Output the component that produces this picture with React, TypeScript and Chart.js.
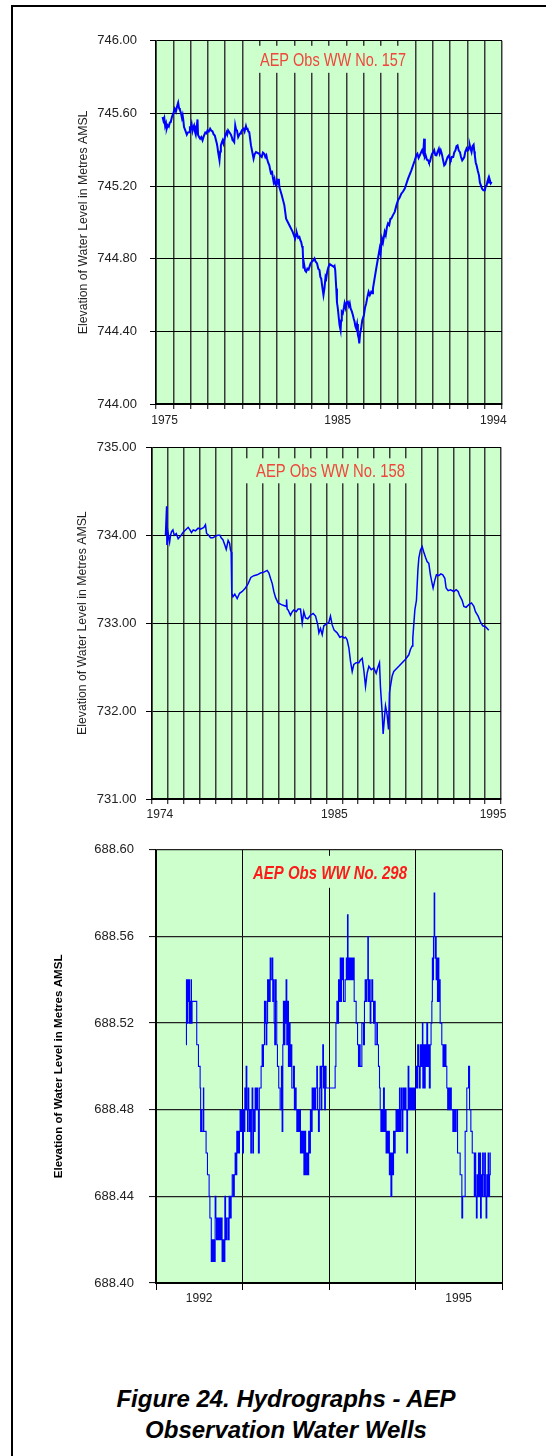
import React, { useEffect, useRef } from "react";
import { Chart, registerables } from "chart.js";

Chart.register(...registerables);

// ---------------- DATA (decimal year, water level m AMSL) ----------------
const well157: [number, number][] = [
  [1975.38,745.580],[1975.43,745.560],[1975.48,745.575],[1975.53,745.530],[1975.58,745.545],[1975.62,745.516],[1975.68,745.535],[1975.74,745.528],[1975.80,745.550],[1975.85,745.552],[1975.92,745.580],[1976.00,745.600],[1976.08,745.626],[1976.15,745.610],[1976.22,745.640],[1976.28,745.659],[1976.33,745.630],[1976.38,745.620],[1976.43,745.607],[1976.50,745.575],[1976.54,745.590],[1976.58,745.562],[1976.62,745.525],[1976.70,745.505],[1976.78,745.483],[1976.84,745.495],[1976.91,745.497],[1976.96,745.520],[1977.01,745.516],[1977.06,745.540],[1977.11,745.505],[1977.16,745.525],[1977.20,745.534],[1977.25,745.500],[1977.30,745.483],[1977.35,745.520],[1977.40,745.567],[1977.43,745.483],[1977.49,745.470],[1977.55,745.461],[1977.62,745.470],[1977.69,745.452],[1977.74,745.468],[1977.78,745.479],[1977.85,745.495],[1977.92,745.490],[1977.98,745.507],[1978.05,745.500],[1978.13,745.516],[1978.20,745.505],[1978.27,745.501],[1978.33,745.485],[1978.40,745.479],[1978.46,745.455],[1978.52,745.433],[1978.56,745.410],[1978.59,745.387],[1978.63,745.365],[1978.67,745.342],[1978.71,745.390],[1978.75,745.424],[1978.80,745.440],[1978.85,745.452],[1978.90,745.435],[1978.94,745.452],[1979.01,745.480],[1979.08,745.497],[1979.12,745.485],[1979.17,745.507],[1979.25,745.495],[1979.33,745.483],[1979.38,745.470],[1979.43,745.452],[1979.48,745.448],[1979.52,745.442],[1979.58,745.534],[1979.63,745.510],[1979.68,745.507],[1979.75,745.470],[1979.80,745.480],[1979.86,745.490],[1979.91,745.497],[1979.98,745.510],[1980.06,745.516],[1980.12,745.500],[1980.20,745.530],[1980.24,745.515],[1980.29,745.516],[1980.34,745.500],[1980.39,745.497],[1980.49,745.424],[1980.64,745.351],[1980.70,745.375],[1980.78,745.387],[1980.97,745.378],[1981.04,745.365],[1981.11,745.360],[1981.18,745.385],[1981.26,745.378],[1981.32,745.360],[1981.38,745.370],[1981.42,745.351],[1981.48,745.330],[1981.55,745.314],[1981.60,745.290],[1981.65,745.268],[1981.70,745.285],[1981.75,745.250],[1981.80,745.223],[1981.85,745.240],[1981.90,745.210],[1981.94,745.204],[1982.00,745.230],[1982.07,745.213],[1982.10,745.240],[1982.13,745.195],[1982.27,745.149],[1982.42,745.094],[1982.52,745.021],[1982.71,744.984],[1982.90,744.948],[1983.04,744.911],[1983.10,744.935],[1983.15,744.939],[1983.22,744.915],[1983.29,744.920],[1983.35,744.900],[1983.39,744.893],[1983.44,744.870],[1983.48,744.856],[1983.52,744.746],[1983.56,744.770],[1983.62,744.735],[1983.68,744.728],[1983.75,744.745],[1983.82,744.740],[1983.87,744.755],[1983.94,744.775],[1984.00,744.783],[1984.08,744.790],[1984.16,744.801],[1984.22,744.785],[1984.31,744.774],[1984.38,744.745],[1984.45,744.737],[1984.50,744.700],[1984.55,744.691],[1984.62,744.640],[1984.68,744.600],[1984.74,744.640],[1984.80,744.700],[1984.84,744.691],[1984.90,744.730],[1984.97,744.755],[1985.05,744.770],[1985.13,744.765],[1985.20,744.760],[1985.28,744.755],[1985.32,744.760],[1985.36,744.737],[1985.42,744.636],[1985.46,744.560],[1985.51,744.526],[1985.56,744.480],[1985.61,744.435],[1985.67,744.407],[1985.70,744.460],[1985.74,744.508],[1985.80,744.500],[1985.86,744.530],[1985.90,744.554],[1985.96,744.530],[1986.02,744.560],[1986.09,744.563],[1986.15,744.540],[1986.20,744.555],[1986.25,744.526],[1986.32,744.510],[1986.38,744.490],[1986.43,744.470],[1986.48,744.453],[1986.52,744.430],[1986.57,744.417],[1986.62,744.440],[1986.67,744.380],[1986.72,744.360],[1986.75,744.334],[1986.80,744.390],[1986.86,744.417],[1986.92,744.460],[1987.02,744.490],[1987.08,744.530],[1987.15,744.554],[1987.22,744.590],[1987.29,744.618],[1987.36,744.600],[1987.44,744.618],[1987.50,744.610],[1987.54,744.636],[1987.73,744.746],[1987.93,744.856],[1987.98,744.830],[1988.06,744.911],[1988.12,744.890],[1988.22,744.948],[1988.28,744.930],[1988.35,744.975],[1988.41,744.994],[1988.48,744.985],[1988.55,745.020],[1988.60,745.021],[1988.70,745.040],[1988.80,745.058],[1988.90,745.095],[1988.99,745.122],[1989.08,745.135],[1989.18,745.158],[1989.28,745.170],[1989.38,745.186],[1989.57,745.241],[1989.76,745.287],[1989.96,745.342],[1990.05,745.370],[1990.11,745.378],[1990.18,745.355],[1990.25,745.369],[1990.32,745.385],[1990.38,745.397],[1990.45,745.380],[1990.50,745.461],[1990.54,745.360],[1990.59,745.369],[1990.66,745.345],[1990.73,745.342],[1990.78,745.330],[1990.83,745.333],[1990.90,745.360],[1990.96,745.378],[1991.02,745.385],[1991.08,745.397],[1991.15,745.370],[1991.21,745.369],[1991.28,745.390],[1991.35,745.406],[1991.40,745.380],[1991.46,745.397],[1991.50,745.385],[1991.54,745.369],[1991.60,745.340],[1991.66,745.314],[1991.72,745.320],[1991.79,745.342],[1991.86,745.360],[1991.93,745.369],[1992.00,745.345],[1992.04,745.342],[1992.10,745.360],[1992.18,745.360],[1992.24,745.385],[1992.31,745.397],[1992.37,745.420],[1992.43,745.424],[1992.50,745.395],[1992.57,745.387],[1992.63,745.360],[1992.70,745.342],[1992.76,745.350],[1992.82,745.360],[1992.88,745.390],[1992.95,745.406],[1993.00,745.395],[1993.05,745.397],[1993.10,745.415],[1993.14,745.424],[1993.20,745.400],[1993.24,745.387],[1993.30,745.420],[1993.36,745.428],[1993.40,745.390],[1993.43,745.369],[1993.48,745.330],[1993.53,745.314],[1993.60,745.285],[1993.67,745.259],[1993.72,745.220],[1993.78,745.204],[1993.85,745.185],[1993.92,745.177],[1994.01,745.177],[1994.06,745.200],[1994.11,745.204],[1994.16,745.225],[1994.21,745.241],[1994.25,745.220],[1994.30,745.232],[1994.35,745.215],[1994.40,745.223],
];

const well158: [number, number][] = [
  [1974.85,734.00],[1974.92,734.33],[1974.94,733.89],[1974.98,733.95],[1975.02,734.02],[1975.11,733.92],[1975.17,734.00],[1975.23,734.04],[1975.32,734.06],[1975.40,734.00],[1975.53,734.02],[1975.65,733.96],[1975.80,733.99],[1975.95,734.03],[1976.11,734.06],[1976.28,734.09],[1976.39,734.06],[1976.49,734.03],[1976.60,734.06],[1976.74,734.05],[1976.91,734.08],[1977.06,734.07],[1977.27,734.09],[1977.37,734.12],[1977.44,734.02],[1977.58,734.00],[1977.69,733.97],[1977.84,733.97],[1978.00,733.99],[1978.15,734.00],[1978.28,734.00],[1978.36,733.97],[1978.47,733.95],[1978.59,733.89],[1978.68,733.84],[1978.80,733.94],[1978.89,733.91],[1978.95,733.83],[1978.99,733.81],[1979.03,733.34],[1979.10,733.30],[1979.22,733.33],[1979.37,733.28],[1979.52,733.34],[1979.69,733.36],[1979.89,733.40],[1980.06,733.45],[1980.23,733.52],[1980.42,733.54],[1980.63,733.55],[1980.84,733.57],[1981.05,733.58],[1981.26,733.60],[1981.37,733.57],[1981.47,733.51],[1981.58,733.45],[1981.68,733.36],[1981.79,733.29],[1981.95,733.23],[1982.16,733.21],[1982.31,733.20],[1982.46,733.19],[1982.48,733.27],[1982.52,733.16],[1982.58,733.15],[1982.73,733.09],[1982.84,733.13],[1982.94,733.15],[1983.09,733.13],[1983.21,733.16],[1983.36,733.16],[1983.47,733.00],[1983.57,733.13],[1983.68,733.06],[1983.82,733.05],[1983.99,733.09],[1984.16,733.11],[1984.31,733.08],[1984.45,732.98],[1984.52,732.89],[1984.62,732.94],[1984.73,732.87],[1984.83,732.97],[1984.98,732.99],[1985.15,733.01],[1985.25,733.08],[1985.36,732.98],[1985.48,732.92],[1985.67,732.89],[1985.84,732.84],[1985.99,732.85],[1986.11,732.83],[1986.20,732.84],[1986.30,732.81],[1986.41,732.72],[1986.51,732.57],[1986.62,732.45],[1986.72,732.53],[1986.87,732.55],[1987.04,732.55],[1987.14,732.58],[1987.25,732.60],[1987.35,732.47],[1987.46,732.28],[1987.56,732.43],[1987.67,732.51],[1987.82,732.47],[1987.98,732.49],[1988.13,732.43],[1988.26,732.51],[1988.34,732.55],[1988.40,732.28],[1988.51,731.98],[1988.57,731.74],[1988.66,731.94],[1988.72,732.06],[1988.82,731.96],[1988.91,731.79],[1988.97,732.21],[1989.03,732.28],[1989.14,732.40],[1989.24,732.45],[1989.45,732.49],[1989.56,732.51],[1989.98,732.59],[1990.19,732.64],[1990.29,732.70],[1990.40,732.74],[1990.44,732.83],[1990.50,732.98],[1990.57,733.15],[1990.67,733.26],[1990.76,733.60],[1990.82,733.74],[1990.92,733.83],[1991.03,733.87],[1991.13,733.81],[1991.24,733.75],[1991.34,733.70],[1991.45,733.68],[1991.55,733.55],[1991.66,733.45],[1991.72,733.40],[1991.83,733.49],[1991.93,733.55],[1992.08,733.54],[1992.21,733.56],[1992.33,733.55],[1992.46,733.51],[1992.54,733.40],[1992.67,733.37],[1992.82,733.38],[1993.03,733.36],[1993.17,733.38],[1993.30,733.36],[1993.38,733.32],[1993.55,733.26],[1993.66,733.19],[1993.80,733.18],[1993.97,733.21],[1994.14,733.23],[1994.29,733.19],[1994.39,733.13],[1994.56,733.08],[1994.71,733.01],[1994.85,732.97],[1995.02,732.96],[1995.13,732.94],[1995.23,732.92],
];

const well298: [number, number][] = [
  [1992.348,688.51],[1992.352,688.54],[1992.356,688.52],[1992.360,688.54],[1992.364,688.52],[1992.368,688.54],[1992.371,688.53],[1992.375,688.54],[1992.379,688.53],[1992.383,688.54],[1992.387,688.52],[1992.391,688.53],[1992.394,688.52],[1992.398,688.53],[1992.402,688.52],[1992.406,688.54],[1992.410,688.52],[1992.417,688.53],[1992.471,688.51],[1992.491,688.50],[1992.510,688.49],[1992.516,688.47],[1992.522,688.48],[1992.530,688.47],[1992.548,688.49],[1992.552,688.47],[1992.579,688.46],[1992.595,688.45],[1992.614,688.44],[1992.623,688.43],[1992.639,688.41],[1992.645,688.42],[1992.651,688.41],[1992.663,688.42],[1992.675,688.41],[1992.684,688.44],[1992.692,688.43],[1992.700,688.42],[1992.712,688.43],[1992.724,688.42],[1992.732,688.43],[1992.740,688.42],[1992.752,688.43],[1992.764,688.41],[1992.772,688.42],[1992.784,688.41],[1992.796,688.44],[1992.804,688.42],[1992.816,688.43],[1992.832,688.42],[1992.845,688.44],[1992.857,688.43],[1992.869,688.44],[1992.881,688.45],[1992.895,688.44],[1992.905,688.45],[1992.915,688.46],[1992.925,688.45],[1992.934,688.47],[1992.941,688.46],[1992.949,688.47],[1992.957,688.46],[1992.965,688.47],[1992.972,688.48],[1992.980,688.47],[1992.988,688.48],[1993.003,688.46],[1993.011,688.48],[1993.019,688.47],[1993.027,688.49],[1993.034,688.48],[1993.042,688.50],[1993.050,688.48],[1993.058,688.47],[1993.065,688.49],[1993.073,688.48],[1993.081,688.47],[1993.088,688.48],[1993.096,688.46],[1993.103,688.48],[1993.111,688.49],[1993.119,688.46],[1993.127,688.48],[1993.134,688.47],[1993.146,688.49],[1993.154,688.48],[1993.165,688.49],[1993.176,688.48],[1993.184,688.46],[1993.194,688.49],[1993.215,688.50],[1993.227,688.51],[1993.234,688.50],[1993.242,688.51],[1993.254,688.53],[1993.260,688.52],[1993.265,688.53],[1993.273,688.51],[1993.281,688.52],[1993.290,688.54],[1993.296,688.53],[1993.304,688.54],[1993.311,688.53],[1993.320,688.55],[1993.331,688.54],[1993.346,688.55],[1993.350,688.53],[1993.358,688.54],[1993.366,688.52],[1993.373,688.51],[1993.381,688.54],[1993.389,688.53],[1993.396,688.51],[1993.404,688.50],[1993.419,688.49],[1993.435,688.48],[1993.450,688.50],[1993.458,688.47],[1993.466,688.51],[1993.473,688.53],[1993.481,688.51],[1993.490,688.53],[1993.496,688.52],[1993.504,688.54],[1993.512,688.51],[1993.520,688.53],[1993.531,688.50],[1993.542,688.52],[1993.550,688.50],[1993.560,688.51],[1993.570,688.49],[1993.589,688.50],[1993.600,688.48],[1993.608,688.49],[1993.620,688.48],[1993.628,688.47],[1993.640,688.48],[1993.650,688.47],[1993.660,688.48],[1993.670,688.46],[1993.680,688.47],[1993.690,688.46],[1993.700,688.47],[1993.710,688.45],[1993.720,688.47],[1993.730,688.45],[1993.743,688.46],[1993.755,688.45],[1993.765,688.47],[1993.775,688.46],[1993.785,688.48],[1993.795,688.47],[1993.805,688.49],[1993.815,688.48],[1993.825,688.49],[1993.835,688.48],[1993.845,688.49],[1993.859,688.50],[1993.866,688.48],[1993.878,688.47],[1993.888,688.49],[1993.897,688.50],[1993.908,688.48],[1993.917,688.50],[1993.928,688.51],[1993.936,688.49],[1993.943,688.50],[1993.950,688.48],[1993.958,688.50],[1993.966,688.49],[1994.071,688.50],[1994.080,688.52],[1994.091,688.53],[1994.100,688.52],[1994.110,688.54],[1994.121,688.53],[1994.130,688.55],[1994.137,688.53],[1994.145,688.55],[1994.152,688.54],[1994.160,688.55],[1994.168,688.53],[1994.187,688.54],[1994.200,688.55],[1994.210,688.54],[1994.214,688.57],[1994.220,688.54],[1994.228,688.55],[1994.236,688.54],[1994.245,688.55],[1994.255,688.54],[1994.264,688.55],[1994.275,688.54],[1994.283,688.55],[1994.291,688.53],[1994.314,688.52],[1994.330,688.51],[1994.341,688.50],[1994.350,688.51],[1994.360,688.50],[1994.380,688.52],[1994.399,688.51],[1994.410,688.53],[1994.418,688.54],[1994.428,688.53],[1994.437,688.54],[1994.449,688.56],[1994.455,688.53],[1994.468,688.54],[1994.476,688.52],[1994.484,688.53],[1994.495,688.54],[1994.505,688.53],[1994.515,688.52],[1994.525,688.53],[1994.534,688.51],[1994.553,688.52],[1994.560,688.51],[1994.572,688.50],[1994.584,688.49],[1994.592,688.48],[1994.600,688.47],[1994.611,688.48],[1994.620,688.47],[1994.630,688.49],[1994.640,688.47],[1994.649,688.48],[1994.660,688.46],[1994.669,688.47],[1994.680,688.46],[1994.688,688.47],[1994.698,688.45],[1994.707,688.46],[1994.716,688.44],[1994.726,688.46],[1994.736,688.45],[1994.746,688.47],[1994.756,688.46],[1994.765,688.47],[1994.775,688.48],[1994.784,688.47],[1994.794,688.48],[1994.804,688.47],[1994.815,688.49],[1994.822,688.47],[1994.830,688.48],[1994.838,688.49],[1994.846,688.47],[1994.854,688.48],[1994.861,688.49],[1994.870,688.48],[1994.881,688.49],[1994.890,688.48],[1994.900,688.46],[1994.908,688.48],[1994.915,688.50],[1994.923,688.48],[1994.931,688.49],[1994.940,688.48],[1994.946,688.49],[1994.954,688.48],[1994.962,688.49],[1994.970,688.48],[1994.977,688.49],[1994.988,688.48],[1994.996,688.49],[1995.005,688.50],[1995.015,688.49],[1995.025,688.51],[1995.035,688.50],[1995.045,688.49],[1995.054,688.51],[1995.063,688.50],[1995.073,688.51],[1995.080,688.52],[1995.085,688.49],[1995.093,688.51],[1995.102,688.49],[1995.112,688.51],[1995.120,688.50],[1995.131,688.52],[1995.140,688.50],[1995.150,688.51],[1995.160,688.49],[1995.170,688.51],[1995.180,688.52],[1995.189,688.53],[1995.195,688.55],[1995.200,688.54],[1995.208,688.56],[1995.216,688.58],[1995.222,688.56],[1995.227,688.55],[1995.233,688.56],[1995.239,688.54],[1995.247,688.55],[1995.254,688.53],[1995.262,688.55],[1995.270,688.53],[1995.278,688.54],[1995.285,688.52],[1995.304,688.51],[1995.318,688.50],[1995.326,688.51],[1995.334,688.50],[1995.342,688.51],[1995.352,688.50],[1995.362,688.49],[1995.372,688.48],[1995.382,688.49],[1995.394,688.48],[1995.404,688.49],[1995.414,688.48],[1995.432,688.47],[1995.445,688.48],[1995.458,688.47],[1995.470,688.48],[1995.486,688.46],[1995.516,688.45],[1995.536,688.43],[1995.545,688.44],[1995.574,688.47],[1995.593,688.49],[1995.613,688.50],[1995.625,688.48],[1995.640,688.47],[1995.656,688.46],[1995.680,688.44],[1995.688,688.46],[1995.696,688.44],[1995.704,688.43],[1995.712,688.45],[1995.720,688.44],[1995.728,688.46],[1995.736,688.44],[1995.744,688.46],[1995.752,688.43],[1995.760,688.45],[1995.768,688.44],[1995.776,688.46],[1995.784,688.45],[1995.792,688.44],[1995.800,688.46],[1995.808,688.44],[1995.816,688.43],[1995.824,688.45],[1995.832,688.44],[1995.840,688.46],[1995.848,688.44],[1995.856,688.45],[1995.864,688.46],[1995.871,688.46],
];

// tick values / labels
const yTicks157 = [744, 744.4, 744.8, 745.2, 745.6, 746];
const yTicks158 = [731, 732, 733, 734, 735];
const yTicks298 = [688.4, 688.44, 688.48, 688.52, 688.56, 688.6];
const xLabels157 = [1975, 1985, 1994];
const xLabels158 = [1974, 1985, 1995];
const xLabels298 = [1992, 1995];
const Y_TITLE = "Elevation of Water Level in Metres AMSL";

// ---------------- chart plumbing ----------------
const plotDecor = {
  id: "plotDecor",
  beforeDraw(chart: any, _a: any, o: any) {
    const { ctx, chartArea: a } = chart;
    ctx.save();
    ctx.fillStyle = o.bg;
    ctx.fillRect(a.left, a.top, a.right - a.left, a.bottom - a.top);
    ctx.restore();
  },
  beforeDatasetsDraw(chart: any, _a: any, o: any) {
    const { ctx, chartArea: a } = chart;
    ctx.save();
    ctx.fillStyle = o.bg;
    ctx.fillRect(a.left + o.bx, a.top + o.by, o.bw, o.bh);
    ctx.font = o.textFont;
    ctx.fillStyle = o.color;
    ctx.textAlign = "center";
    ctx.textBaseline = "middle";
    const w = ctx.measureText(o.text).width;
    ctx.translate(a.left + o.cx, a.top + o.cy);
    ctx.scale(o.textWidth / w, 1);
    ctx.fillText(o.text, 0, 0);
    ctx.restore();
  },
};

type Spec = {
  id: string;
  series: [number, number][];
  top: number;
  height: number;
  padding: { left: number; right: number; top: number; bottom: number };
  yAxisWidth: number;
  xMin: number;
  xMax: number;
  yMin: number;
  yMax: number;
  yTicks: number[];
  xLabels: number[];
  xLabelOffset: number;
  xTickLength: number;
  xLabelPadding: number;
  yTickLength: number;
  yTickPadding: number;
  yTitleSize: number;
  yTitleWeight: string;
  yTitleColor: string;
  title: string;
  titleFont: string;
  titleColor: string;
  titleWidth: number;
  box: { bx: number; by: number; bw: number; bh: number; cx: number; cy: number };
  vGridColor: string;
  vGridWidth: number;
  hGridColor: string;
  hGridWidth: number;
  lineWidth: number;
  stepped: boolean;
};

const specs: Spec[] = [
  {
    id: "157", series: well157, top: 20, height: 420,
    padding: { left: 76, right: 44, top: 0, bottom: 6 }, yAxisWidth: 80,
    xMin: 1975, xMax: 1995, yMin: 744, yMax: 746, yTicks: yTicks157, xLabels: xLabels157,
    xLabelOffset: 8.6, xTickLength: 5, xLabelPadding: 4, yTickLength: 6, yTickPadding: 13,
    yTitleSize: 12.3, yTitleWeight: "normal", yTitleColor: "#222",
    title: "AEP Obs WW No. 157", titleFont: '18px "Liberation Sans", Arial, sans-serif', titleColor: "#f0463c", titleWidth: 146,
    box: { bx: 94, by: 5, bw: 157, bh: 27, cx: 177, cy: 20 },
    vGridColor: "#3a3a3a", vGridWidth: 1.5, hGridColor: "#000", hGridWidth: 1, lineWidth: 2, stepped: false,
  },
  {
    id: "158", series: well158, top: 430, height: 401,
    padding: { left: 75, right: 45, top: 0, bottom: 2 }, yAxisWidth: 77,
    xMin: 1974, xMax: 1996, yMin: 731, yMax: 735, yTicks: yTicks158, xLabels: xLabels158,
    xLabelOffset: 7.9, xTickLength: 5, xLabelPadding: 3, yTickLength: 6, yTickPadding: 9.5,
    yTitleSize: 12.3, yTitleWeight: "normal", yTitleColor: "#222",
    title: "AEP Obs WW No. 158", titleFont: '18px "Liberation Sans", Arial, sans-serif', titleColor: "#f0463c", titleWidth: 149,
    box: { bx: 88, by: 11, bw: 172, bh: 25, cx: 178.5, cy: 24.7 },
    vGridColor: "#3a3a3a", vGridWidth: 1.5, hGridColor: "#000", hGridWidth: 1, lineWidth: 1.5, stepped: false,
  },
  {
    id: "298", series: well298, top: 827, height: 500,
    padding: { left: 52, right: 44, top: 0, bottom: 14 }, yAxisWidth: 104,
    xMin: 1992, xMax: 1996, yMin: 688.4, yMax: 688.6, yTicks: yTicks298, xLabels: xLabels298,
    xLabelOffset: 43.2, xTickLength: 7, xLabelPadding: 1, yTickLength: 7, yTickPadding: 15,
    yTitleSize: 11.6, yTitleWeight: "bold", yTitleColor: "#000",
    title: "AEP Obs WW No. 298", titleFont: 'italic bold 18px "Liberation Sans", Arial, sans-serif', titleColor: "#ff1a1a", titleWidth: 154,
    box: { bx: 94, by: 6, bw: 160, bh: 32, cx: 174, cy: 24.3 },
    vGridColor: "#000", vGridWidth: 1, hGridColor: "#222", hGridWidth: 1.2, lineWidth: 1.1, stepped: true,
  },
];

function makeConfig(s: Spec): any {
  const gridYears: number[] = [];
  for (let v = s.xMin; v <= s.xMax; v++) gridYears.push(v);
  const family = '"Liberation Sans", Arial, sans-serif';
  return {
    type: "line",
    data: {
      datasets: [
        {
          data: s.series.map(([x, y]) => ({ x, y })),
          borderColor: "#0000ff",
          borderWidth: s.lineWidth,
          pointRadius: 0,
          fill: false,
          tension: 0,
          stepped: s.stepped,
        },
      ],
    },
    options: {
      responsive: false,
      animation: false,
      events: [],
      layout: { padding: s.padding },
      plugins: {
        legend: { display: false },
        tooltip: { enabled: false },
        plotDecor: {
          bg: "#ccffcc",
          text: s.title,
          textFont: s.titleFont,
          color: s.titleColor,
          textWidth: s.titleWidth,
          ...s.box,
        },
      },
      scales: {
        x: {
          type: "linear",
          min: s.xMin,
          max: s.xMax,
          afterFit: (sc: any) => { sc.height = 30; },
          afterBuildTicks: (sc: any) => { sc.ticks = gridYears.map((v) => ({ value: v })); },
          grid: { color: s.vGridColor, lineWidth: s.vGridWidth, tickLength: s.xTickLength, tickColor: "#000", tickWidth: 1 },
          border: { color: "#000", width: 2 },
          ticks: {
            autoSkip: false,
            maxRotation: 0,
            minRotation: 0,
            labelOffset: s.xLabelOffset,
            padding: s.xLabelPadding,
            color: "#222",
            font: { family, size: 12 },
            callback: (v: any) => (s.xLabels.includes(Number(v)) ? String(v) : ""),
          },
        },
        y: {
          type: "linear",
          min: s.yMin,
          max: s.yMax,
          afterFit: (sc: any) => { sc.width = s.yAxisWidth; },
          afterBuildTicks: (sc: any) => { sc.ticks = s.yTicks.map((v) => ({ value: v })); },
          grid: { color: s.hGridColor, lineWidth: s.hGridWidth, tickLength: s.yTickLength, tickColor: "#000", tickWidth: 1 },
          border: { color: "#000", width: 1.5 },
          ticks: {
            padding: s.yTickPadding,
            color: "#222",
            font: { family, size: 13 },
            callback: (v: any) => Number(v).toFixed(2),
          },
          title: {
            display: true,
            text: Y_TITLE,
            color: s.yTitleColor,
            padding: 0,
            font: { family, size: s.yTitleSize, weight: s.yTitleWeight },
          },
        },
      },
    },
    plugins: [plotDecor],
  };
}

function WellChart({ spec }: { spec: Spec }) {
  const ref = useRef<HTMLCanvasElement | null>(null);
  useEffect(() => {
    if (!ref.current) return;
    const chart = new Chart(ref.current, makeConfig(spec));
    return () => chart.destroy();
  }, [spec]);
  return (
    <canvas
      ref={ref}
      width={546}
      height={spec.height}
      style={{ position: "absolute", left: 0, top: spec.top, width: 546, height: spec.height }}
    />
  );
}

export default function App() {
  return (
    <div
      style={{
        position: "absolute",
        left: 0,
        top: 0,
        width: 546,
        height: 1456,
        overflow: "hidden",
        background: "#fff",
      }}
    >
      <div
        style={{
          position: "absolute",
          left: 11,
          top: 5,
          width: 535,
          height: 1451,
          borderLeft: "2px solid #000",
          borderTop: "2px solid #000",
          boxSizing: "border-box",
        }}
      />
      {specs.map((s) => (
        <WellChart key={s.id} spec={s} />
      ))}
      <div
        style={{
          position: "absolute",
          left: 26,
          top: 1383,
          width: 520,
          textAlign: "center",
          fontFamily: '"Liberation Sans", Arial, sans-serif',
          fontStyle: "italic",
          fontWeight: "bold",
          fontSize: 24,
          lineHeight: "31px",
          color: "#000",
        }}
      >
        Figure 24. Hydrographs - AEP
        <br />
        Observation Water Wells
      </div>
    </div>
  );
}
